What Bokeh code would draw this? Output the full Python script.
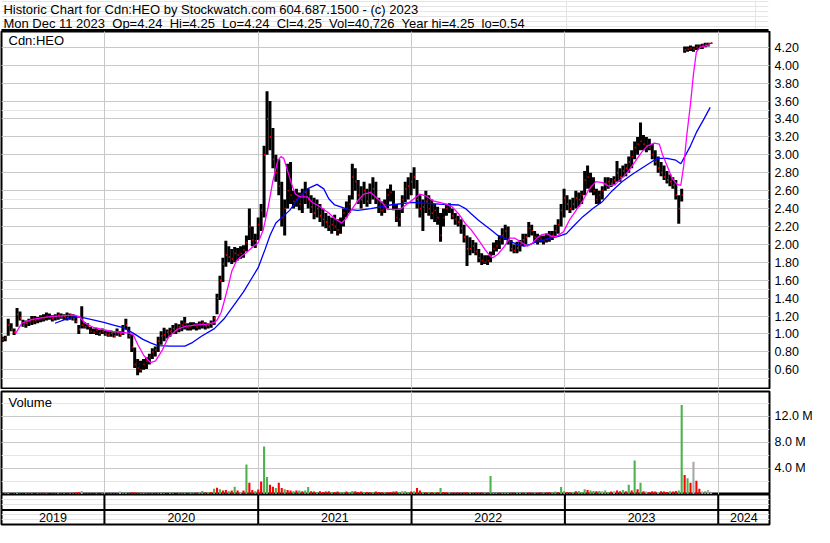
import numpy as np
import pandas as pd
from bokeh.plotting import figure
from bokeh.models import Range1d, LinearAxis, FixedTicker, Grid, Label, Span, PrintfTickFormatter
from bokeh.layouts import column
from bokeh.embed import file_html
from bokeh.resources import INLINE
from bokeh.core.properties import value

# ---------------- data (weekly bars) ----------------
first_week = "2019-05-03"
view_start = "2019-05-01"
view_end = "2024-05-02"

week_low = [
    0.91, 0.92, 0.98, 1.03, 0.99, 1.08, 1.15, 1.08, 1.07, 1.09,
    1.10, 1.11, 1.12, 1.13, 1.14, 1.15, 1.16, 1.14, 1.15, 1.16,
    1.17, 1.16, 1.15, 1.16, 1.15, 1.12, 1.00, 1.06, 1.06, 1.05,
    1.00, 1.00, 0.99, 0.98, 1.00, 0.98, 0.97, 0.97, 0.96, 0.98,
    0.97, 0.99, 1.05, 0.95, 0.80, 0.62, 0.54, 0.57, 0.60, 0.61,
    0.66, 0.72, 0.75, 0.80, 0.88, 0.92, 0.95, 0.97, 1.00, 1.00,
    1.02, 1.03, 1.05, 1.04, 1.04, 1.05, 1.04, 1.05, 1.06, 1.05,
    1.06, 1.07, 1.10, 1.22, 1.38, 1.58, 1.75, 1.80, 1.78, 1.80,
    1.82, 1.84, 1.85, 1.92, 2.05, 1.98, 1.96, 2.05, 2.15, 2.30,
    3.00, 3.05, 2.85, 2.70, 2.55, 2.20, 2.10, 2.40, 2.45, 2.40,
    2.42, 2.38, 2.35, 2.45, 2.40, 2.35, 2.28, 2.30, 2.25, 2.20,
    2.18, 2.15, 2.12, 2.15, 2.10, 2.12, 2.20, 2.30, 2.35, 2.50,
    2.60, 2.45, 2.40, 2.45, 2.42, 2.45, 2.50, 2.45, 2.35, 2.32,
    2.35, 2.40, 2.48, 2.38, 2.25, 2.20, 2.35, 2.47, 2.50, 2.55,
    2.62, 2.40, 2.30, 2.15, 2.35, 2.32, 2.28, 2.25, 2.22, 2.03,
    2.20, 2.32, 2.35, 2.28, 2.22, 2.20, 2.12, 2.02, 1.76, 1.88,
    1.90, 1.88, 1.80, 1.77, 1.78, 1.77, 1.80, 1.88, 1.92, 1.95,
    2.00, 2.05, 2.00, 1.92, 1.90, 1.90, 1.92, 1.98, 2.00, 2.08,
    2.10, 2.02, 2.00, 2.02, 2.00, 2.02, 2.03, 2.05, 2.08, 2.12,
    2.20, 2.30, 2.38, 2.35, 2.38, 2.40, 2.42, 2.45, 2.55, 2.62,
    2.58, 2.55, 2.45, 2.45, 2.50, 2.60, 2.62, 2.64, 2.66, 2.70,
    2.70, 2.75, 2.76, 2.80, 2.85, 2.95, 3.00, 3.05, 3.05, 3.03,
    3.05, 2.95, 2.88, 2.80, 2.76, 2.72, 2.68, 2.65, 2.62, 2.50,
    2.23, 2.48, 4.14, 4.15, 4.16, 4.15, 4.17, 4.18, 4.18, 4.20,
    4.21, 4.24,
]
week_high = [
    0.97, 0.98, 1.17, 1.12, 1.06, 1.29, 1.25, 1.16, 1.15, 1.17,
    1.20, 1.20, 1.19, 1.21, 1.22, 1.24, 1.23, 1.21, 1.22, 1.24,
    1.23, 1.22, 1.24, 1.23, 1.22, 1.20, 1.10, 1.31, 1.13, 1.12,
    1.08, 1.06, 1.07, 1.05, 1.06, 1.04, 1.03, 1.04, 1.02, 1.06,
    1.03, 1.10, 1.17, 1.08, 1.00, 0.85, 0.72, 0.70, 0.72, 0.74,
    0.78, 0.84, 0.86, 0.97, 1.03, 1.07, 1.05, 1.07, 1.10, 1.12,
    1.11, 1.15, 1.19, 1.12, 1.13, 1.13, 1.12, 1.14, 1.15, 1.13,
    1.12, 1.15, 1.20, 1.45, 1.65, 1.85, 2.04, 1.98, 1.95, 1.97,
    1.96, 1.98, 1.99, 2.10, 2.40, 2.20, 2.12, 2.30, 2.45, 3.10,
    3.71, 3.60, 3.30, 3.00, 2.95, 2.70, 2.50, 2.90, 2.92, 2.60,
    2.62, 2.58, 2.62, 2.70, 2.62, 2.55, 2.52, 2.50, 2.45, 2.40,
    2.35, 2.32, 2.30, 2.33, 2.28, 2.30, 2.40, 2.48, 2.55, 2.90,
    2.85, 2.72, 2.65, 2.70, 2.62, 2.68, 2.75, 2.70, 2.52, 2.48,
    2.50, 2.62, 2.67, 2.60, 2.45, 2.40, 2.55, 2.70, 2.75, 2.80,
    2.86, 2.72, 2.55, 2.50, 2.60, 2.55, 2.50, 2.45, 2.42, 2.35,
    2.40, 2.45, 2.46, 2.40, 2.35, 2.32, 2.28, 2.22, 2.10, 2.08,
    2.05, 2.02, 1.95, 1.90, 1.88, 1.88, 1.92, 2.02, 2.05, 2.10,
    2.18, 2.22, 2.20, 2.05, 2.00, 2.03, 2.05, 2.12, 2.12, 2.25,
    2.22, 2.15, 2.12, 2.10, 2.10, 2.12, 2.15, 2.15, 2.22, 2.28,
    2.45, 2.62, 2.55, 2.50, 2.52, 2.60, 2.58, 2.60, 2.82, 2.88,
    2.80, 2.75, 2.62, 2.60, 2.65, 2.75, 2.75, 2.74, 2.76, 2.93,
    2.85, 2.88, 2.90, 2.98, 3.05, 3.15, 3.20, 3.36, 3.22, 3.20,
    3.18, 3.12, 3.05, 2.98, 2.92, 2.88, 2.82, 2.78, 2.75, 2.72,
    2.55, 2.62, 4.21, 4.21, 4.22, 4.21, 4.23, 4.23, 4.24, 4.25,
    4.25, 4.25,
]
week_close = [
    0.94, 0.95, 1.10, 1.05, 1.02, 1.22, 1.18, 1.10, 1.12, 1.14,
    1.16, 1.15, 1.16, 1.18, 1.17, 1.20, 1.19, 1.17, 1.20, 1.21,
    1.19, 1.20, 1.18, 1.21, 1.17, 1.14, 1.05, 1.10, 1.08, 1.09,
    1.03, 1.02, 1.04, 1.01, 1.03, 1.00, 0.99, 1.01, 0.98, 1.02,
    1.00, 1.07, 1.10, 0.98, 0.85, 0.66, 0.62, 0.60, 0.66, 0.70,
    0.74, 0.80, 0.82, 0.92, 0.98, 0.99, 1.02, 1.03, 1.06, 1.05,
    1.08, 1.10, 1.12, 1.07, 1.09, 1.10, 1.08, 1.11, 1.12, 1.09,
    1.10, 1.11, 1.18, 1.40, 1.60, 1.78, 1.88, 1.86, 1.84, 1.90,
    1.88, 1.90, 1.94, 2.02, 2.20, 2.05, 2.04, 2.22, 2.38, 3.00,
    3.40, 3.20, 2.95, 2.80, 2.65, 2.30, 2.40, 2.60, 2.55, 2.48,
    2.50, 2.45, 2.55, 2.58, 2.50, 2.42, 2.35, 2.40, 2.32, 2.28,
    2.25, 2.20, 2.22, 2.20, 2.16, 2.24, 2.35, 2.40, 2.45, 2.75,
    2.70, 2.55, 2.50, 2.60, 2.48, 2.58, 2.62, 2.52, 2.42, 2.38,
    2.44, 2.55, 2.58, 2.45, 2.30, 2.28, 2.50, 2.62, 2.65, 2.70,
    2.75, 2.50, 2.40, 2.42, 2.48, 2.40, 2.35, 2.38, 2.30, 2.10,
    2.30, 2.40, 2.42, 2.32, 2.28, 2.25, 2.18, 2.08, 1.95, 1.95,
    1.98, 1.92, 1.85, 1.82, 1.80, 1.82, 1.88, 1.95, 1.98, 2.05,
    2.10, 2.15, 2.05, 1.95, 1.93, 1.96, 2.00, 2.05, 2.08, 2.18,
    2.15, 2.08, 2.05, 2.06, 2.04, 2.06, 2.08, 2.10, 2.15, 2.22,
    2.38, 2.52, 2.45, 2.40, 2.45, 2.52, 2.50, 2.55, 2.72, 2.75,
    2.65, 2.60, 2.50, 2.55, 2.60, 2.68, 2.70, 2.68, 2.72, 2.80,
    2.75, 2.82, 2.85, 2.92, 2.98, 3.08, 3.12, 3.15, 3.12, 3.10,
    3.08, 3.00, 2.92, 2.85, 2.80, 2.75, 2.72, 2.70, 2.66, 2.55,
    2.40, 2.55, 4.17, 4.18, 4.19, 4.18, 4.20, 4.21, 4.22, 4.23,
    4.24, 4.25,
]
# volume in millions of shares; direction g = up, r = down, n = unchanged
week_volume = [
    0.15, 0.2, 0.25, 0.15, 0.2, 0.3, 0.2, 0.15, 0.2, 0.15,
    0.2, 0.15, 0.2, 0.15, 0.25, 0.2, 0.15, 0.2, 0.15, 0.3,
    0.2, 0.2, 0.15, 0.2, 0.25, 0.3, 0.4, 0.55, 0.2, 0.15,
    0.2, 0.15, 0.2, 0.15, 0.2, 0.15, 0.2, 0.15, 0.2, 0.15,
    0.45, 0.2, 0.3, 0.2, 0.35, 0.3, 0.25, 0.2, 0.25, 0.2,
    0.15, 0.2, 0.15, 0.2, 0.25, 0.2, 0.15, 0.35, 0.2, 0.15,
    0.2, 0.2, 0.25, 0.2, 0.3, 0.2, 0.25, 0.3, 0.55, 0.3,
    0.35, 0.4, 0.9, 1.05, 0.8, 0.6, 0.7, 0.5, 0.6, 1.2,
    0.6, 0.4, 0.6, 4.63, 1.8, 0.7, 0.5, 0.75, 2.0, 7.37,
    2.7, 1.5, 1.2, 1.0, 1.8, 1.0, 0.8, 0.7, 0.6, 0.5,
    0.6, 0.6, 0.5, 0.6, 1.15, 0.5, 0.45, 0.4, 0.5, 0.4,
    0.45, 0.5, 0.35, 0.4, 0.45, 0.35, 0.4, 0.45, 0.4, 0.55,
    0.5, 0.4, 0.45, 0.35, 0.4, 0.35, 0.4, 0.45, 0.4, 0.35,
    0.3, 0.35, 0.4, 0.45, 0.5, 0.4, 0.55, 0.5, 0.4, 0.45,
    0.5, 1.0, 0.6, 0.4, 0.35, 0.4, 0.35, 0.4, 0.35, 1.0,
    0.4, 0.35, 0.3, 0.3, 0.25, 0.3, 0.25, 0.3, 0.35, 0.3,
    0.25, 0.3, 0.25, 0.3, 0.25, 0.25, 2.84, 0.25, 0.3, 0.25,
    0.3, 0.25, 0.35, 0.25, 0.3, 0.4, 0.3, 0.25, 0.3, 0.3,
    0.25, 0.3, 0.25, 0.3, 0.25, 0.3, 0.35, 0.3, 0.45, 0.35,
    1.15, 0.5, 0.35, 0.3, 0.4, 0.5, 0.55, 0.4, 0.8, 0.7,
    0.6, 0.55, 0.5, 0.55, 0.5, 0.6, 0.4, 0.45, 0.5, 0.6,
    0.5, 0.7, 0.5, 1.5, 0.6, 5.23, 0.8, 1.8, 0.5, 0.45,
    0.4, 0.5, 0.45, 0.4, 0.5, 0.45, 0.4, 0.5, 0.45, 0.55,
    0.6, 13.75, 3.0, 2.5, 1.8, 5.04, 2.1, 0.9, 0.45, 0.5,
    0.7, 0.3,
]
week_direction = [
    "r", "g", "g", "r", "r", "g", "r", "r", "g", "g",
    "g", "r", "g", "g", "r", "g", "r", "r", "g", "g",
    "r", "g", "r", "g", "r", "r", "r", "n", "r", "g",
    "r", "r", "g", "r", "g", "r", "r", "g", "r", "g",
    "n", "g", "g", "r", "r", "r", "r", "g", "g", "g",
    "g", "g", "g", "g", "g", "g", "r", "g", "g", "r",
    "g", "g", "g", "r", "g", "g", "r", "g", "g", "r",
    "g", "r", "g", "r", "g", "r", "r", "g", "r", "g",
    "r", "n", "r", "g", "r", "r", "g", "r", "r", "g",
    "g", "r", "r", "g", "r", "r", "g", "r", "r", "g",
    "r", "g", "r", "g", "g", "r", "r", "g", "r", "r",
    "r", "r", "g", "r", "r", "g", "g", "r", "g", "g",
    "r", "r", "r", "g", "r", "r", "g", "r", "r", "r",
    "g", "r", "r", "r", "r", "g", "n", "g", "g", "r",
    "g", "r", "r", "g", "r", "g", "r", "g", "r", "g",
    "r", "r", "g", "r", "r", "r", "r", "r", "r", "g",
    "r", "r", "r", "r", "g", "r", "g", "g", "g", "r",
    "g", "g", "g", "r", "r", "g", "g", "r", "g", "r",
    "r", "g", "r", "r", "g", "r", "r", "g", "g", "r",
    "g", "g", "r", "r", "g", "r", "g", "g", "g", "r",
    "g", "g", "r", "g", "n", "g", "g", "r", "n", "r",
    "r", "g", "r", "g", "r", "g", "r", "g", "r", "n",
    "r", "r", "r", "n", "r", "r", "r", "g", "r", "r",
    "g", "g", "r", "g", "r", "n", "r", "r", "n", "g",
    "n", "n",
]

# moving averages, position in weeks from first_week
fast_ma_week = [
    4.6, 6.6, 9.9, 13.2, 16.5, 21.2, 24.5, 26.2, 28.2, 31.2,
    34.5, 37.1, 39.8, 43.1, 44.5, 46.1, 48.1, 50.4, 52.1, 54.4,
    56.4, 59.4, 62.1, 65.4, 69.7, 72.1, 73.1, 74.4, 75.4, 77.0,
    78.0, 79.7, 81.4, 83.0, 85.4, 87.0, 88.7, 90.4, 92.0, 93.7,
    94.7, 95.7, 97.0, 98.7, 99.7, 101.3, 103.7, 105.3, 108.0, 111.0,
    113.0, 115.3, 116.9, 118.6, 120.9, 122.9, 125.3, 127.6, 129.6, 130.9,
    132.9, 135.3, 137.6, 139.6, 141.9, 144.2, 146.2, 148.6, 150.9, 152.9,
    155.2, 157.5, 159.5, 161.9, 164.2, 165.9, 166.8, 168.5, 170.8, 172.5,
    174.2, 176.2, 178.5, 180.1, 181.8, 183.5, 185.1, 186.8, 188.5, 190.8,
    192.8, 195.1, 197.4, 199.4, 201.8, 204.1, 206.1, 208.4, 210.7, 212.7,
    215.1, 217.4, 219.4, 221.7, 223.4, 224.4, 226.0, 227.7, 229.4, 230.7,
    231.7, 232.7, 234.0, 235.0, 236.0, 237.3, 240.7,
]
fast_ma_value = [
    1.01, 1.12, 1.16, 1.18, 1.195, 1.204, 1.21, 1.195, 1.12, 1.07,
    1.05, 1.03, 1.02, 1.01, 0.99, 0.88, 0.76, 0.68, 0.70, 0.82,
    0.96, 1.05, 1.085, 1.10, 1.11, 1.13, 1.16, 1.24, 1.36, 1.56,
    1.70, 1.82, 1.87, 1.91, 1.98, 2.02, 2.16, 2.42, 2.71, 2.94,
    2.98, 2.96, 2.82, 2.64, 2.56, 2.53, 2.53, 2.47, 2.42, 2.35,
    2.29, 2.24, 2.29, 2.38, 2.49, 2.56, 2.58, 2.51, 2.45, 2.39,
    2.39, 2.39, 2.45, 2.50, 2.56, 2.54, 2.49, 2.47, 2.45, 2.42,
    2.34, 2.23, 2.16, 2.05, 1.94, 1.87, 1.85, 1.89, 1.98, 2.07,
    2.07, 2.03, 1.98, 2.01, 2.07, 2.11, 2.12, 2.09, 2.09, 2.14,
    2.27, 2.38, 2.49, 2.61, 2.70, 2.69, 2.65, 2.67, 2.74, 2.81,
    2.92, 3.03, 3.10, 3.13, 3.12, 3.01, 2.88, 2.74, 2.67, 2.66,
    2.88, 3.21, 3.57, 3.90, 4.15, 4.20, 4.23,
]
slow_ma_week = [
    17.9, 21.2, 24.5, 27.8, 31.2, 34.5, 37.8, 41.1, 44.5, 47.8,
    50.4, 52.8, 57.1, 62.1, 64.4, 67.7, 72.1, 75.4, 78.7, 82.0,
    84.4, 87.0, 89.4, 91.0, 93.0, 97.7, 101.0, 103.7, 107.0, 109.3,
    111.0, 113.0, 117.6, 120.9, 125.3, 131.9, 139.6, 148.6, 155.2, 157.5,
    159.5, 161.9, 164.2, 166.2, 168.5, 170.8, 172.8, 175.2, 177.5, 179.5,
    181.8, 184.1, 186.1, 189.1, 191.8, 194.1, 197.4, 200.8, 204.1, 207.4,
    210.7, 214.1, 217.4, 220.7, 222.7, 226.0, 229.0, 230.7, 231.7, 234.0,
    236.0, 238.4, 240.7,
]
slow_ma_value = [
    1.12, 1.16, 1.195, 1.18, 1.155, 1.13, 1.10, 1.07, 1.01, 0.94,
    0.90, 0.87, 0.865, 0.865, 0.90, 0.975, 1.06, 1.17, 1.32, 1.47,
    1.60, 1.74, 1.95, 2.10, 2.24, 2.38, 2.53, 2.62, 2.67, 2.62,
    2.51, 2.44, 2.39, 2.38, 2.40, 2.44, 2.47, 2.45, 2.44, 2.40,
    2.34, 2.27, 2.21, 2.16, 2.10, 2.07, 2.03, 2.00, 1.98, 2.00,
    2.03, 2.05, 2.07, 2.09, 2.12, 2.20, 2.31, 2.40, 2.48, 2.60,
    2.70, 2.78, 2.85, 2.92, 2.96, 2.96, 2.94, 2.90, 2.96, 3.10,
    3.25, 3.39, 3.53,
]

price_ticks = [0.6, 0.8, 1.0, 1.2, 1.4, 1.6, 1.8, 2.0, 2.2, 2.4,
               2.6, 2.8, 3.0, 3.2, 3.4, 3.6, 3.8, 4.0, 4.2]
price_view = (0.3916, 4.3765)
volume_ticks = [4, 8, 12]
volume_tick_labels = ["4.0 M", "8.0 M", "12.0 M"]
volume_view = (0.0, 15.84)
years = [2019, 2020, 2021, 2022, 2023, 2024]

GAP = "\u00a0 "
title_line = "Historic Chart for Cdn:HEO by Stockwatch.com 604.687.1500 - (c) 2023"
info_fields = ["Mon Dec 11 2023", "Op=4.24", "Hi=4.25", "Lo=4.24", "Cl=4.25",
               "Vol=40,726", "Year hi=4.25", "lo=0.54"]
info_line = GAP.join(info_fields)
symbol_label = "Cdn:HEO"
volume_label = "Volume"

# ---------------- styling ----------------
FONT = "Liberation Sans"
GRID = "#c8c8c8"
GREEN = "#4cb34c"
RED = "#ff0000"
GREY = "#a8a8a8"
FRAME_W = 768
BL, BR = 1, 45
TOTAL_W = BL + FRAME_W + BR
DAY_MS = 86400000

start = pd.Timestamp(first_week)
n = len(week_close)
dates = start + pd.to_timedelta(np.arange(n) * 7, unit="D")
fast_dates = start + pd.to_timedelta(np.array(fast_ma_week) * 7, unit="D")
slow_dates = start + pd.to_timedelta(np.array(slow_ma_week) * 7, unit="D")

xr = Range1d(start=pd.Timestamp(view_start), end=pd.Timestamp(view_end))


def ms(ts):
    return pd.Timestamp(ts).value / 1e6


year_bounds = [ms(f"{y}-01-01") for y in years[1:]]
x0_ms, x1_ms = ms(view_start), ms(view_end)


def frame_fig(h, yr, top=0, bottom=0):
    f = figure(frame_width=FRAME_W, frame_height=h, x_range=xr, y_range=yr,
               min_border_left=BL, min_border_right=BR, min_border_top=top,
               min_border_bottom=bottom, x_axis_location=None, y_axis_location=None,
               toolbar_location=None, output_backend="svg",
               outline_line_color="black", outline_line_width=2, outline_line_alpha=1.0,
               background_fill_color="white", border_fill_color="white")
    return f


# ---------------- header ----------------
hdr = figure(width=TOTAL_W, height=31, x_range=Range1d(0, TOTAL_W), y_range=Range1d(0, 31),
             min_border=0, x_axis_location=None, y_axis_location=None, toolbar_location=None,
             output_backend="svg", outline_line_color=None, border_fill_color="white",
             background_fill_color="white")
hdr.quad(left=0, right=TOTAL_W, bottom=0, top=2, color="black")
hdr.add_layout(Label(x=2, y=22, text=title_line, text_font=FONT, text_font_size="13px",
                     text_baseline="middle", text_color="black"))
hdr.add_layout(Label(x=2, y=8.5, text=info_line, text_font=FONT, text_font_size="13px",
                     text_baseline="middle", text_color="black"))

# ---------------- price panel ----------------
price = frame_fig(357, Range1d(*price_view), top=0, bottom=1)
price.add_layout(Grid(dimension=1, ticker=FixedTicker(ticks=price_ticks), grid_line_color=GRID))
price.add_layout(Grid(dimension=0, ticker=FixedTicker(ticks=year_bounds), grid_line_color=GRID))
pax = LinearAxis(ticker=FixedTicker(ticks=price_ticks), formatter=PrintfTickFormatter(format="%.2f"),
                 axis_line_color=None, major_tick_line_color=None, minor_tick_line_color=None,
                 major_tick_out=0, major_tick_in=0, major_label_standoff=5,
                 major_label_text_font=FONT, major_label_text_font_size="12.5px",
                 major_label_text_color="black")
price.add_layout(pax, "right")

price.segment(x0=dates, y0=week_low, x1=dates, y1=week_high, line_color="black", line_width=3.0)
price.rect(x=dates + pd.Timedelta(hours=30), y=week_close, width=2.5 * DAY_MS, height=0.02,
           fill_color=RED, line_color=None)
price.line(x=slow_dates, y=slow_ma_value, line_color="#0000ff", line_width=1.3)
price.line(x=fast_dates, y=fast_ma_value, line_color="#ff00ff", line_width=1.3)
price.add_layout(Label(x=7, y=348, x_units="screen", y_units="screen", text=symbol_label,
                       text_font=FONT, text_font_size="13px", text_baseline="middle",
                       text_color="black"))

# ---------------- volume panel ----------------
vol = frame_fig(103, Range1d(*volume_view), top=2, bottom=0)
vol.add_layout(Grid(dimension=1, ticker=FixedTicker(ticks=volume_ticks), grid_line_color=GRID))
vol.add_layout(Grid(dimension=0, ticker=FixedTicker(ticks=year_bounds), grid_line_color=GRID))
vax = LinearAxis(ticker=FixedTicker(ticks=volume_ticks),
                 major_label_overrides={t: s for t, s in zip(volume_ticks, volume_tick_labels)},
                 axis_line_color=None, major_tick_line_color=None, minor_tick_line_color=None,
                 major_tick_out=0, major_tick_in=0, major_label_standoff=5,
                 major_label_text_font=FONT, major_label_text_font_size="12.5px",
                 major_label_text_color="black")
vol.add_layout(vax, "right")
colmap = {"g": GREEN, "r": RED, "n": GREY}
vol.vbar(x=dates, top=week_volume, bottom=0, width=5 * DAY_MS,
         fill_color=[colmap[d] for d in week_direction], line_color=None)
vol.add_layout(Label(x=7, y=92, x_units="screen", y_units="screen", text=volume_label,
                     text_font=FONT, text_font_size="13px", text_baseline="middle",
                     text_color="black"))

# ---------------- year rows ----------------
yrs = frame_fig(30, Range1d(0, 30), top=0, bottom=2)
yrs.segment(x0=year_bounds, y0=0, x1=year_bounds, y1=30, line_color="black", line_width=2)
yrs.add_layout(Span(location=14.5, dimension="width", line_color="black", line_width=2))
mids = []
for y in years:
    a = max(ms(f"{y}-01-01"), x0_ms)
    b = min(ms(f"{y + 1}-01-01"), x1_ms)
    mids.append((a + b) / 2)
yrs.text(x=mids, y=[7] * len(years), text=[str(y) for y in years], text_align="center",
         text_baseline="middle", text_font=value(FONT), text_font_size=value("12.5px"),
         text_color="black")

layout = column(hdr, price, vol, yrs, spacing=0)
open("out.html", "w").write(file_html(layout, INLINE))
